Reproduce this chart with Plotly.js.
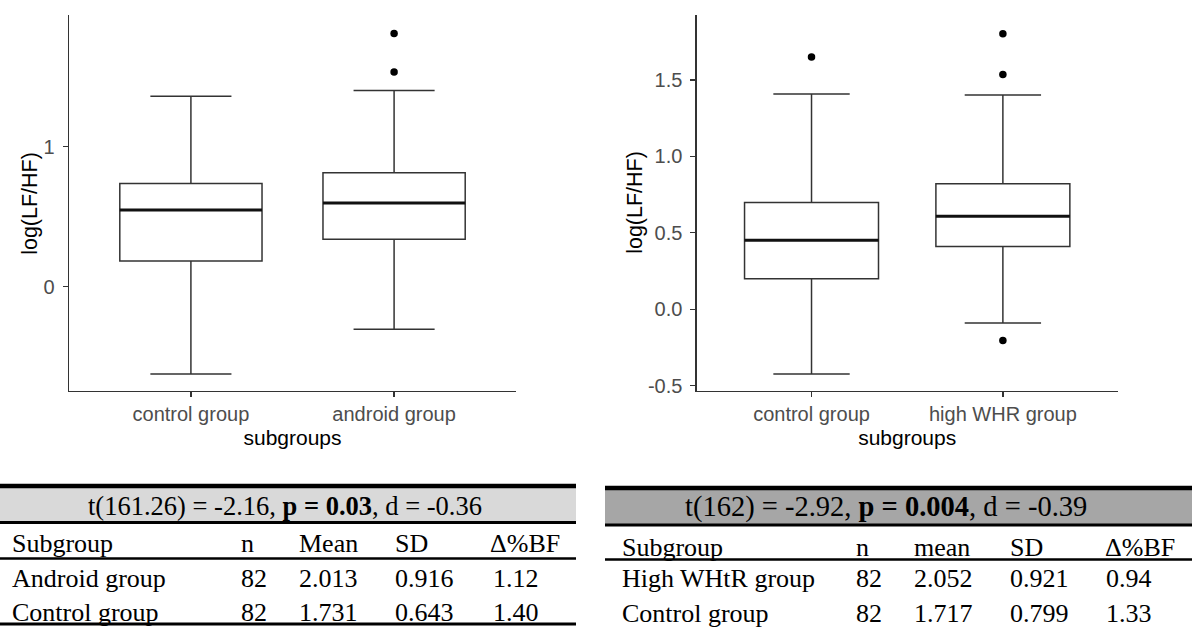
<!DOCTYPE html>
<html>
<head>
<meta charset="utf-8">
<script src="https://cdn.plot.ly/plotly-3.0.1.min.js"></script>
<style>
  html, body { margin: 0; padding: 0; background: #ffffff; }
  #chart { width: 1192px; height: 630px; }
</style>
</head>
<body>
<div id="chart"></div>
<script>
// ---- Box plot summaries: log(LF/HF) by subgroup ----
const leftCategories = ["control group", "android group"];
const leftQ1 = [0.184, 0.338];
const leftMedian = [0.548, 0.598];
const leftQ3 = [0.736, 0.814];
const leftLowerFence = [-0.624, -0.304];
const leftUpperFence = [1.36, 1.40];
const leftOutlierGroup = [2, 2];
const leftOutlierValue = [1.807, 1.533];
const leftTickVals = [0, 1];
const leftTickText = ["0", "1"];

const rightCategories = ["control group", "high WHR group"];
const rightQ1 = [0.199, 0.411];
const rightMedian = [0.452, 0.609];
const rightQ3 = [0.699, 0.821];
const rightLowerFence = [-0.424, -0.090];
const rightUpperFence = [1.408, 1.402];
const rightOutlierGroup = [1, 2, 2, 2];
const rightOutlierValue = [1.65, 1.803, 1.535, -0.205];
const rightTickVals = [-0.5, 0, 0.5, 1, 1.5];
const rightTickText = ["-0.5", "0.0", "0.5", "1.0", "1.5"];

const yTitle = "log(LF/HF)";
const xTitle = "subgroups";

// ---- Summary tables ----
const leftTestParts = ["t(161.26) = -2.16, ", "p = 0.03", ", d = -0.36"];
const leftHeader = ["Subgroup", "n", "Mean", "SD", "\u0394%BF"];
const leftRowNames = ["Android group", "Control group"];
const leftN = ["82", "82"];
const leftMean = ["2.013", "1.731"];
const leftSD = ["0.916", "0.643"];
const leftBF = ["1.12", "1.40"];

const rightTestParts = ["t(162) = -2.92, ", "p = 0.004", ", d = -0.39"];
const rightHeader = ["Subgroup", "n", "mean", "SD", "\u0394%BF"];
const rightRowNames = ["High WHtR group", "Control group"];
const rightN = ["82", "82"];
const rightMean = ["2.052", "1.717"];
const rightSD = ["0.921", "0.799"];
const rightBF = ["0.94", "1.33"];

// ---- helpers: figure pixels -> paper coordinates ----
const W = 1192, H = 630;
const px = x => x / W;
const py = y => 1 - y / H;

const BOX_W = 0.7;
const LINE_C = "#333333";
const sansFont = "Liberation Sans, Arial, sans-serif";
const serifFont = "Liberation Serif, Times New Roman, serif";

function boxTraces(cats, q1, med, q3, lo, hi, outG, outV, xa, ya) {
  const pos = cats.map((_, i) => i + 1);
  const box = {
    type: "box", x: pos, q1: q1, median: med, q3: q3,
    lowerfence: lo, upperfence: hi,
    width: BOX_W, whiskerwidth: 0.57, boxpoints: false,
    fillcolor: "#ffffff", line: { color: LINE_C, width: 1.5 },
    xaxis: xa, yaxis: ya, hoverinfo: "skip"
  };
  // heavier median bar drawn over each box
  const mx = [], my = [];
  pos.forEach((p, i) => {
    mx.push(p - BOX_W / 2, p + BOX_W / 2, null);
    my.push(med[i], med[i], null);
  });
  const medianLine = {
    type: "scatter", mode: "lines", x: mx, y: my,
    line: { color: "#111111", width: 3 }, xaxis: xa, yaxis: ya, hoverinfo: "skip"
  };
  const outliers = {
    type: "scatter", mode: "markers", x: outG, y: outV,
    marker: { color: "#000000", size: 7.5 }, xaxis: xa, yaxis: ya, hoverinfo: "skip"
  };
  return [box, medianLine, outliers];
}

const data = [
  ...boxTraces(leftCategories, leftQ1, leftMedian, leftQ3, leftLowerFence, leftUpperFence,
               leftOutlierGroup, leftOutlierValue, "x", "y"),
  ...boxTraces(rightCategories, rightQ1, rightMedian, rightQ3, rightLowerFence, rightUpperFence,
               rightOutlierGroup, rightOutlierValue, "x2", "y2")
];

function xAxis(domain, cats, anchor) {
  return {
    domain: domain, anchor: anchor, range: [0.4, 2.6],
    tickmode: "array", tickvals: cats.map((_, i) => i + 1), ticktext: cats,
    showline: true, linecolor: LINE_C, linewidth: 1.3, mirror: false,
    ticks: "outside", ticklen: 5, tickwidth: 1.3, tickcolor: LINE_C,
    showgrid: false, zeroline: false, fixedrange: true,
    tickfont: { family: sansFont, size: 20, color: "#4d4d4d" },
    title: { text: xTitle, font: { family: sansFont, size: 21, color: "#000000" }, standoff: 6 }
  };
}
function yAxis(domain, range, vals, texts, anchor) {
  return {
    domain: domain, anchor: anchor, range: range,
    tickmode: "array", tickvals: vals, ticktext: texts,
    showline: true, linecolor: LINE_C, linewidth: 1.3,
    ticks: "outside", ticklen: 5, tickwidth: 1.3, tickcolor: LINE_C, ticklabelstandoff: 4,
    showgrid: false, zeroline: false, fixedrange: true,
    tickfont: { family: sansFont, size: 20, color: "#4d4d4d" }
  };
}

const plotTop = 15, plotBottom = 390.7;
const plotY = [py(plotBottom), py(plotTop)];

// ---- table shapes and text ----
const shapes = [];
const annotations = [];

// rotated y-axis titles, centred on each panel
[30, 635].forEach(x => annotations.push({
  text: yTitle, xref: "paper", yref: "paper", x: px(x), y: py((plotTop + plotBottom) / 2),
  xanchor: "center", yanchor: "middle", textangle: -90, showarrow: false,
  font: { family: sansFont, size: 21.5, color: "#000000" }
}));

function hline(x0, x1, y, w) {
  shapes.push({ type: "line", xref: "paper", yref: "paper", x0: px(x0), x1: px(x1),
                y0: py(y), y1: py(y), line: { color: "#000000", width: w } });
}
function band(x0, x1, y0, y1, color) {
  shapes.push({ type: "rect", xref: "paper", yref: "paper", x0: px(x0), x1: px(x1),
                y0: py(y1), y1: py(y0), fillcolor: color, line: { width: 0 }, layer: "below" });
}
function text(t, x, y, anchor, size) {
  annotations.push({ text: t, xref: "paper", yref: "paper", x: px(x), y: py(y),
                     xanchor: anchor || "left", yanchor: "middle", showarrow: false,
                     font: { family: serifFont, size: size || 26, color: "#000000" } });
}

function table(o) {
  band(o.x0, o.x1, o.top, o.bandBottom, o.bandColor);
  hline(o.x0, o.x1, o.top, 4.5);
  hline(o.x0, o.x1, o.bandBottom, 3.2);
  hline(o.x0, o.x1, o.headBottom, 2.5);
  if (o.bottom) hline(o.x0, o.x1, o.bottom, 3);
  text(o.test[0] + "<b>" + o.test[1] + "</b>" + o.test[2], o.testX, o.testY, "center", o.testSize);
  o.header.forEach((h, j) => text(h, o.cols[j], o.headY));
  const cols = [o.names, o.n, o.mean, o.sd, o.bf];
  o.names.forEach((_, i) => {
    cols.forEach((c, j) => text(c[i], o.valCols[j], o.rowY[i]));
  });
}

table({
  x0: 0, x1: 576, top: 486, bandBottom: 522.5, headBottom: 558.5, bottom: 624,
  bandColor: "#d9d9d9", test: leftTestParts, testX: 285, testY: 506, testSize: 26.5,
  header: leftHeader, cols: [10, 239, 297, 393, 488], headY: 543,
  names: leftRowNames, n: leftN, mean: leftMean, sd: leftSD, bf: leftBF,
  valCols: [10, 239, 297, 393, 491], rowY: [578, 612]
});
table({
  x0: 605, x1: 1192, top: 488, bandBottom: 525, headBottom: 559.5, bottom: null,
  bandColor: "#a6a6a6", test: rightTestParts, testX: 886, testY: 507, testSize: 28.5,
  header: rightHeader, cols: [620, 854, 912, 1008, 1103], headY: 547,
  names: rightRowNames, n: rightN, mean: rightMean, sd: rightSD, bf: rightBF,
  valCols: [620, 854, 912, 1008, 1104], rowY: [578, 613]
});

const layout = {
  width: W, height: H,
  margin: { l: 0, r: 0, t: 0, b: 0, pad: 0 },
  paper_bgcolor: "#ffffff", plot_bgcolor: "#ffffff",
  showlegend: false, hovermode: false,
  font: { family: sansFont },
  xaxis: xAxis([px(69), px(516)], leftCategories, "y"),
  yaxis: yAxis(plotY, [-0.743, 1.94], leftTickVals, leftTickText, "x"),
  xaxis2: xAxis([px(696.7), px(1117.7)], rightCategories, "y2"),
  yaxis2: yAxis(plotY, [-0.533, 1.925], rightTickVals, rightTickText, "x2"),
  shapes: shapes,
  annotations: annotations
};

Plotly.newPlot("chart", data, layout, { displayModeBar: false, staticPlot: true });
</script>
</body>
</html>
